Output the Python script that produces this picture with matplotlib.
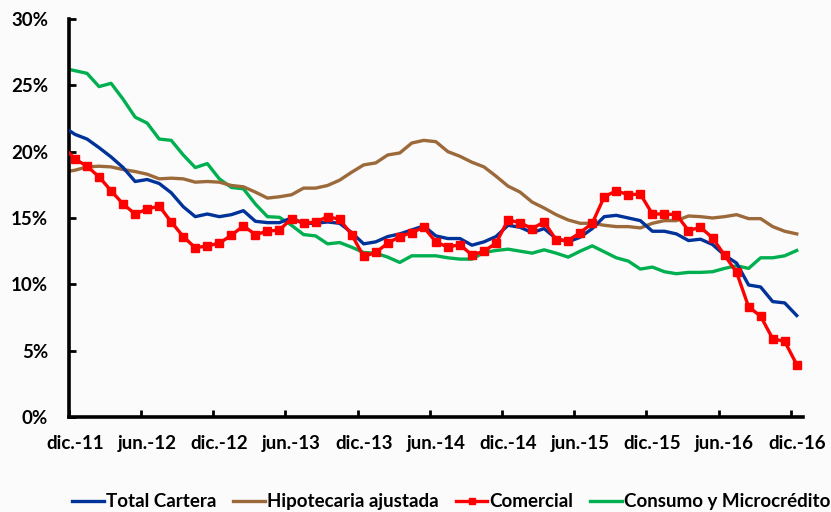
import matplotlib
matplotlib.use('Agg')
import matplotlib.pyplot as plt
import numpy as np
from matplotlib.font_manager import FontProperties
from matplotlib.ticker import FixedLocator, FuncFormatter

# months shown on the axis (dic.-11 .. dic.-16), plus nov.-11 which is clipped by the axis
tick_labels = ['dic.-11', 'jun.-12', 'dic.-12', 'jun.-13', 'dic.-13', 'jun.-14',
               'dic.-14', 'jun.-15', 'dic.-15', 'jun.-16', 'dic.-16']

# values in %, first value is nov.-11
total_cartera = [21.9,
    21.3, 20.95, 20.3, 19.6, 18.8, 17.75, 17.9, 17.6, 16.9, 15.85,
    15.1, 15.3, 15.1, 15.25, 15.55, 14.75, 14.65, 14.65, 15.0, 14.6,
    14.6, 14.7, 14.6, 13.9, 13.05, 13.2, 13.6, 13.8, 14.1, 14.4,
    13.65, 13.45, 13.45, 12.95, 13.2, 13.6, 14.45, 14.3, 13.9, 14.2,
    13.45, 13.2, 13.55, 14.2, 15.1, 15.2, 15.0, 14.8, 14.0, 14.0,
    13.8, 13.3, 13.4, 13.0, 12.2, 11.6, 9.95, 9.8, 8.7, 8.6, 7.65]

hipotecaria = [18.45,
    18.6, 18.85, 18.9, 18.85, 18.65, 18.5, 18.3, 17.95, 18.0, 17.95,
    17.7, 17.75, 17.7, 17.45, 17.35, 16.95, 16.5, 16.6, 16.75, 17.25,
    17.25, 17.45, 17.85, 18.45, 19.0, 19.15, 19.75, 19.9, 20.65, 20.85,
    20.75, 20.0, 19.65, 19.2, 18.85, 18.15, 17.4, 16.95, 16.2, 15.75,
    15.25, 14.85, 14.6, 14.6, 14.45, 14.35, 14.35, 14.25, 14.6, 14.8,
    14.8, 15.15, 15.1, 15.0, 15.1, 15.25, 14.95, 14.95, 14.35, 14.0, 13.8]

comercial = [20.4,
    19.44, 18.9, 18.1, 17.05, 16.05, 15.3, 15.67, 15.9, 14.7, 13.6,
    12.75, 12.9, 13.1, 13.7, 14.4, 13.75, 14.0, 14.1, 14.95, 14.6,
    14.7, 15.1, 14.9, 13.75, 12.1, 12.4, 13.1, 13.6, 13.9, 14.3,
    13.2, 12.8, 13.0, 12.2, 12.5, 13.1, 14.85, 14.65, 14.2, 14.7,
    13.35, 13.3, 13.9, 14.6, 16.6, 17.05, 16.75, 16.8, 15.3, 15.3,
    15.25, 14.05, 14.3, 13.5, 12.2, 10.9, 8.3, 7.6, 5.9, 5.7, 3.95]

consumo = [26.3,
    26.1, 25.9, 24.9, 25.15, 23.95, 22.6, 22.15, 20.95, 20.85, 19.75,
    18.8, 19.1, 17.95, 17.3, 17.2, 16.05, 15.1, 15.05, 14.45, 13.75,
    13.65, 13.05, 13.15, 12.8, 12.4, 12.35, 12.05, 11.65, 12.15, 12.15,
    12.15, 12.0, 11.9, 11.9, 12.4, 12.55, 12.65, 12.5, 12.35, 12.6,
    12.35, 12.05, 12.5, 12.9, 12.45, 12.0, 11.75, 11.15, 11.3, 10.95,
    10.8, 10.9, 10.9, 10.95, 11.2, 11.4, 11.2, 12.0, 12.0, 12.15, 12.55]

x = np.arange(len(comercial)) - 1  # nov.-11 sits at -1

fig = plt.figure(figsize=(8.31, 5.12), dpi=100, facecolor='#fbfbfb')
ax = fig.add_axes([0.083, 0.1855, 0.883, 0.7775])
ax.set_facecolor('none')

lw = 2.4
ax.plot(x, total_cartera, color='#003399', lw=lw, label='Total Cartera', zorder=3)
ax.plot(x, hipotecaria, color='#9C6A3A', lw=lw, label='Hipotecaria ajustada', zorder=2)
ax.plot(x, comercial, color='#FF0000', lw=lw, marker='s', markersize=6,
        label='Comercial', zorder=4)
ax.plot(x, consumo, color='#00B050', lw=lw, label='Consumo y Microcrédito', zorder=1)

ax.set_xlim(-0.5, 60.5)
ax.set_ylim(0, 30)

for side in ['top', 'right']:
    ax.spines[side].set_visible(False)
for side in ['left', 'bottom']:
    ax.spines[side].set_linewidth(2.6)
    ax.spines[side].set_color('black')

fp = FontProperties(family=['Lato', 'DejaVu Sans'], weight='bold', size=13.5)

# labels at category centres, tick marks between categories
ax.xaxis.set_major_locator(FixedLocator(np.arange(0, 61, 6)))
ax.xaxis.set_minor_locator(FixedLocator(np.arange(-0.5, 60, 6)))
ax.set_xticklabels(tick_labels, fontproperties=fp)
ax.tick_params(axis='x', which='major', length=0, pad=13)
ax.tick_params(axis='x', which='minor', direction='in', length=5, width=2)

ax.set_yticks(np.arange(0, 31, 5))
ax.yaxis.set_major_formatter(FuncFormatter(lambda v, p: '%d%%' % v))
for lab in ax.get_yticklabels():
    lab.set_fontproperties(fp)
ax.tick_params(axis='y', direction='in', length=5, width=2, pad=15)

leg = fig.legend(loc='center left', bbox_to_anchor=(0.078, 0.02), ncol=4,
                 frameon=False, handlelength=1.7, handletextpad=0.1,
                 columnspacing=0.9, borderaxespad=0, prop=fp)
for h in leg.legend_handles:
    h.set_markersize(5)

plt.savefig('out.png', dpi=100, facecolor=fig.get_facecolor())
